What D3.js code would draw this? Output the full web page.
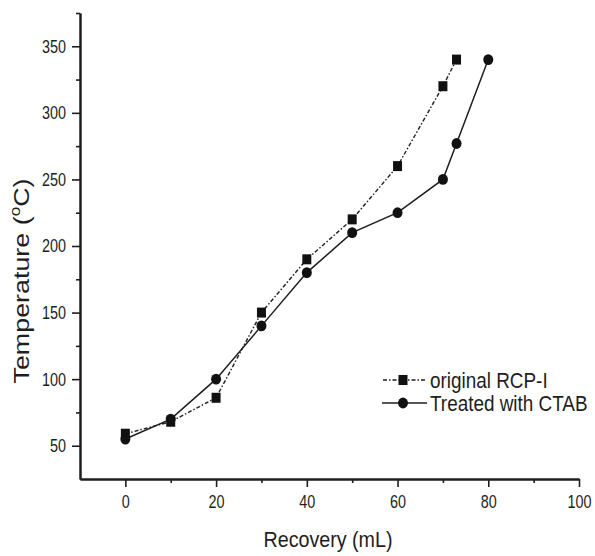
<!DOCTYPE html>
<html><head><meta charset="utf-8">
<script src="https://cdn.jsdelivr.net/npm/d3@7"></script>
<style>
html,body{margin:0;padding:0;background:#fff;}
svg text{font-family:"Liberation Sans",Arial,sans-serif;fill:#1e1e1e;}
</style></head>
<body><svg id="c" width="595" height="556"></svg>
<script>
// ---- data ----
const seriesNames = ["original RCP-I", "Treated with CTAB"];
const recoveryOriginal = [0, 10, 20, 30, 40, 50, 60, 70, 73];
const tempOriginal     = [59, 68, 86, 150, 190, 220, 260, 320, 340];
const recoveryTreated  = [0, 10, 20, 30, 40, 50, 60, 70, 73, 80];
const tempTreated      = [55, 70, 100, 140, 180, 210, 225, 250, 277, 340];
const xMajorTicks = [0, 20, 40, 60, 80, 100];
const xMinorTicks = [10, 30, 50, 70, 90];
const yMajorTicks = [50, 100, 150, 200, 250, 300, 350];
const yMinorTicks = [75, 125, 175, 225, 275, 325, 375];
const xTitle = "Recovery (mL)";
const yTitle = "Temperature (";
const yTitleSup = "o";
const yTitleEnd = "C)";

const svg = d3.select("#c");
svg.append("rect").attr("width",595).attr("height",556).attr("fill","#fff");

const x = d3.scaleLinear().domain([-10, 100]).range([80, 579]);
const y = d3.scaleLinear().domain([25, 375]).range([479, 13]);
const ink = "#1e1e1e";
const sx = 0.8;

// X axis
const gxMinor = svg.append("g").attr("transform","translate(0,479)")
  .call(d3.axisBottom(x).tickValues(xMinorTicks).tickSize(4).tickSizeOuter(0).tickFormat(""));
const gx = svg.append("g").attr("transform","translate(0,479)")
  .call(d3.axisBottom(x).tickValues(xMajorTicks).tickSize(8).tickSizeOuter(0).tickFormat(d3.format("d")));
// Y axis
const gyMinor = svg.append("g").attr("transform","translate(80,0)")
  .call(d3.axisLeft(y).tickValues(yMinorTicks).tickSize(4).tickSizeOuter(0).tickFormat(""));
const gy = svg.append("g").attr("transform","translate(80,0)")
  .call(d3.axisLeft(y).tickValues(yMajorTicks).tickSize(8).tickSizeOuter(0).tickFormat(d3.format("d")));

[gxMinor, gx, gyMinor, gy].forEach(g => {
  g.select(".domain").attr("stroke", ink).attr("stroke-width", 2);
  g.selectAll(".tick line").attr("stroke", ink).attr("stroke-width", 1.6);
});
gx.selectAll(".tick text")
  .attr("font-size", 18).attr("fill", ink).attr("font-family", null)
  .attr("y", 29).attr("dy", 0).attr("transform", `scale(${sx},1)`);
gy.selectAll(".tick text")
  .attr("font-size", 18).attr("fill", ink).attr("font-family", null)
  .attr("x", -14 / sx).attr("dy", "0.33em").attr("transform", `scale(${sx},1)`);

// Axis titles
svg.append("text").attr("x", 328).attr("y", 547).attr("text-anchor","middle")
  .attr("font-size", 22).attr("textLength", 129).attr("lengthAdjust","spacingAndGlyphs")
  .text(xTitle);
const yt = svg.append("text").attr("transform","translate(29,281) rotate(-90)")
  .attr("text-anchor","middle").attr("font-size", 22)
  .attr("textLength", 205).attr("lengthAdjust","spacingAndGlyphs");
yt.append("tspan").text(yTitle);
yt.append("tspan").attr("font-size", 14).attr("dy", -9).text(yTitleSup);
yt.append("tspan").attr("dy", 9).text(yTitleEnd);

// Lines
const dataOriginal = recoveryOriginal.map((r,i)=>({x:r, y:tempOriginal[i]}));
const dataTreated = recoveryTreated.map((r,i)=>({x:r, y:tempTreated[i]}));
const line = d3.line().x(d=>x(d.x)).y(d=>y(d.y));

svg.append("path").datum(dataOriginal).attr("d", line)
  .attr("fill","none").attr("stroke", ink).attr("stroke-width", 1.4)
  .attr("stroke-dasharray","4,2,1.5,2");
svg.append("path").datum(dataTreated).attr("d", line)
  .attr("fill","none").attr("stroke", ink).attr("stroke-width", 1.5);

const sq = 9;
svg.append("g").selectAll("rect").data(dataOriginal).join("rect")
  .attr("x", d=>x(d.x)-sq/2).attr("y", d=>y(d.y)-sq/2-0.5)
  .attr("width", sq).attr("height", sq+1).attr("fill", "#111");
svg.append("g").selectAll("ellipse").data(dataTreated).join("ellipse")
  .attr("cx", d=>x(d.x)).attr("cy", d=>y(d.y)).attr("rx", 5).attr("ry", 5.4).attr("fill", "#111");

// Legend
const lg = svg.append("g");
const rows = [380, 403];
lg.append("line").attr("x1",383).attr("x2",425).attr("y1",rows[0]).attr("y2",rows[0])
  .attr("stroke", ink).attr("stroke-width",1.4).attr("stroke-dasharray","4,2,1.5,2");
lg.append("rect").attr("x",403-sq/2).attr("y",rows[0]-sq/2-0.5).attr("width",sq).attr("height",sq+1).attr("fill","#111");
lg.append("line").attr("x1",382).attr("x2",427).attr("y1",rows[1]).attr("y2",rows[1])
  .attr("stroke", ink).attr("stroke-width",1.5);
lg.append("ellipse").attr("cx",403).attr("cy",rows[1]).attr("rx",5).attr("ry",5.4).attr("fill","#111");
rows.forEach((ry, i) => {
  lg.append("text").attr("transform", `translate(430,${ry+8}) scale(0.86,1)`)
    .attr("x", 0).attr("y", 0).attr("font-size", 22).text(seriesNames[i]);
});
</script></body></html>
